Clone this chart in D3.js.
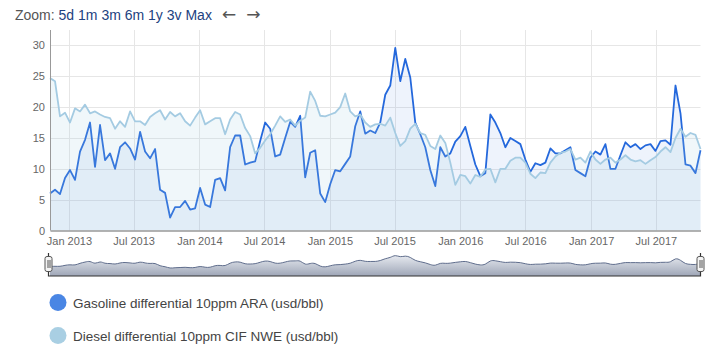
<!DOCTYPE html>
<html>
<head>
<meta charset="utf-8">
<script src="https://cdnjs.cloudflare.com/ajax/libs/d3/7.8.5/d3.min.js"></script>
<style>
  body { margin: 0; background: #fff; }
  svg { display: block; font-family: "Liberation Sans", Arial, Helvetica, sans-serif; }
</style>
</head>
<body>
<div id="chart"></div>
<script>
// one value every 14 days, starting 9 Nov 2012
var startDate = new Date(2012, 10, 9);
var stepDays = 14;

var gasoline = [
  6.0, 6.6, 5.9, 8.5, 9.8, 8.2, 12.8, 14.7, 17.5, 10.3,
  17.1, 11.4, 12.5, 10.0, 13.5, 14.3, 13.3, 11.5, 16.0, 12.8,
  11.7, 13.2, 6.6, 6.1, 2.1, 3.8, 3.8, 4.8, 3.4, 3.6,
  6.9, 4.2, 3.8, 8.2, 8.5, 6.5, 13.5, 15.4, 15.4, 10.7,
  11.0, 11.2, 14.5, 17.5, 16.5, 12.0, 12.3, 15.0, 17.6, 16.8,
  18.6, 8.6, 12.6, 13.0, 6.0, 4.6, 7.5, 9.8, 9.6, 10.8,
  12.0, 16.9, 19.3, 15.7, 16.2, 15.8, 17.5, 22.0, 23.5, 29.6,
  24.2, 27.8, 24.8, 17.5, 15.6, 13.5, 9.8, 7.2, 13.5, 12.0,
  12.5, 14.4, 15.3, 16.8, 13.7, 10.7, 8.8, 9.3, 18.8, 17.5,
  15.8, 13.5, 15.0, 14.5, 14.0, 11.5, 9.5, 10.9, 10.6, 11.0,
  13.3, 12.5, 12.5, 13.0, 13.5, 9.8, 9.3, 8.8, 11.8, 12.8,
  12.3, 14.0, 10.0, 10.0, 12.2, 14.3, 13.5, 14.0, 13.2, 13.8,
  14.0, 12.9, 14.5, 14.6, 13.9, 23.5, 19.0, 10.7, 10.5, 9.3,
  13.0
];

var diesel = [
  24.7, 24.2, 18.5, 19.1, 17.5, 19.8, 19.3, 20.4, 19.0, 19.3,
  18.8, 18.4, 18.2, 16.5, 17.7, 16.8, 19.3, 17.7, 17.7, 17.1,
  18.4, 19.0, 19.5, 18.0, 19.2, 18.5, 19.0, 17.7, 17.0, 18.3,
  19.5, 17.2, 17.7, 18.2, 18.2, 15.6, 18.0, 19.2, 18.8, 16.6,
  15.3, 12.5, 13.4, 14.6, 15.6, 17.0, 18.5, 17.6, 18.0, 17.0,
  17.8, 18.3, 22.5, 21.0, 18.6, 18.5, 18.8, 19.1, 20.0, 22.2,
  19.3, 18.5, 18.8, 17.5, 16.8, 17.2, 17.3, 17.0, 18.3, 15.8,
  13.7, 14.5, 16.5, 17.3, 15.8, 15.5, 13.7, 13.2, 15.4, 14.2,
  11.0, 7.4, 9.0, 8.8, 7.6, 9.0, 8.7, 9.9, 10.0, 7.8,
  10.0, 10.0, 11.3, 11.8, 11.8, 11.0, 9.2, 8.5, 9.4, 9.3,
  11.0, 12.0, 12.6, 12.8, 13.2, 11.5, 11.8, 11.0, 12.8, 11.5,
  10.8, 11.5, 11.8, 11.0, 11.5, 12.2, 11.5, 11.2, 11.4, 10.8,
  11.4, 11.9, 12.8, 13.5, 12.7, 15.0, 16.5, 15.2, 15.8, 15.5,
  13.2
];

var seriesNames = ["Gasoline differential 10ppm ARA (usd/bbl)", "Diesel differential 10ppm CIF NWE (usd/bbl)"];
var lineColors = ["#2468dc", "#a4cbe2"];
var legendColors = ["#4a86e4", "#a9cfe3"];
var fillOpacity = [0.08, 0.16];
var yTicks = [0, 5, 10, 15, 20, 25, 30];
var zoomButtons = ["5d", "1m", "3m", "6m", "1y", "3v", "Max"];
var arrows = ["\u2190", "\u2192"];

var width = 720, height = 364;
var plotLeft = 50, plotRight = 700.5, plotTop = 30, plotBottom = 230.5;

var dates = gasoline.map(function(d, i) { return d3.timeDay.offset(startDate, i * stepDays); });
var series = [gasoline, diesel].map(function(vals, k) {
  return { name: seriesNames[k], color: lineColors[k], values: vals.map(function(v, i) { return { date: dates[i], value: v }; }) };
});

var svg = d3.select("#chart").append("svg")
  .attr("width", width)
  .attr("height", height);

var x = d3.scaleTime().domain(d3.extent(dates)).range([plotLeft, plotRight]);
var y = d3.scaleLinear().domain([0, 32.5]).range([plotBottom, plotTop]);

// range selector text
var zoom = svg.append("text")
  .attr("x", 15)
  .attr("y", 20)
  .style("font-size", "14px");
zoom.append("tspan").attr("fill", "#555").text("Zoom:");
zoomButtons.forEach(function(b) {
  zoom.append("tspan").attr("fill", "#22427f").text(" " + b);
});
arrows.forEach(function(a) {
  zoom.append("tspan")
    .attr("dx", 10)
    .attr("fill", "#555")
    .style("font-family", "'DejaVu Sans', sans-serif")
    .style("font-size", "17px")
    .text(a);
});

// grid
var xTicks = x.ticks(d3.timeMonth.every(6));
svg.append("g")
  .selectAll("line")
  .data(xTicks)
  .enter().append("line")
  .attr("x1", function(d) { return Math.round(x(d)) + 0.5; })
  .attr("x2", function(d) { return Math.round(x(d)) + 0.5; })
  .attr("y1", plotTop)
  .attr("y2", plotBottom)
  .attr("stroke", "#e6e6e6");

svg.append("g")
  .selectAll("line")
  .data(yTicks.slice(1))
  .enter().append("line")
  .attr("x1", plotLeft)
  .attr("x2", plotRight)
  .attr("y1", function(d) { return Math.round(y(d)) + 0.5; })
  .attr("y2", function(d) { return Math.round(y(d)) + 0.5; })
  .attr("stroke", "#e6e6e6");

var area = d3.area()
  .x(function(d) { return x(d.date); })
  .y0(y(0))
  .y1(function(d) { return y(d.value); });

var line = d3.line()
  .x(function(d) { return x(d.date); })
  .y(function(d) { return y(d.value); });

series.forEach(function(s, k) {
  var g = svg.append("g");
  g.append("path")
    .datum(s.values)
    .attr("d", area)
    .attr("fill", s.color)
    .attr("fill-opacity", fillOpacity[k]);
  g.append("path")
    .datum(s.values)
    .attr("d", line)
    .attr("fill", "none")
    .attr("stroke", s.color)
    .attr("stroke-width", 1.8)
    .attr("stroke-linejoin", "round");
});

// axes
var yAxis = svg.append("g")
  .attr("transform", "translate(" + plotLeft + ",0)")
  .call(d3.axisLeft(y).tickValues(yTicks).tickSize(0).tickPadding(5));
yAxis.select(".domain").attr("stroke", "#999").attr("d", "M0.5," + plotTop + "V" + plotBottom);
yAxis.selectAll("text").attr("fill", "#666").style("font-size", "11px")
  .style("font-family", "'Liberation Sans', Arial, sans-serif");

var xAxis = svg.append("g")
  .attr("transform", "translate(0," + plotBottom + ")")
  .call(d3.axisBottom(x).tickValues(xTicks).tickFormat(d3.timeFormat("%b %Y")).tickSize(0).tickPadding(7));
xAxis.select(".domain").attr("stroke", "#999").attr("stroke-width", 1.5);
xAxis.selectAll("text").attr("fill", "#666").style("font-size", "11px")
  .style("font-family", "'Liberation Sans', Arial, sans-serif");

// navigator
var navTop = 253, navBottom = 276;
var navY = d3.scaleLinear().domain([-13, 33]).range([navBottom, navTop]);

var grad = svg.append("defs").append("linearGradient")
  .attr("id", "navFill")
  .attr("x1", 0).attr("y1", 0).attr("x2", 0).attr("y2", 1);
grad.append("stop").attr("offset", "0%").attr("stop-color", "#e6e9ef");
grad.append("stop").attr("offset", "100%").attr("stop-color", "#9ea6b7");

svg.append("path")
  .datum(series[0].values)
  .attr("d", d3.area().curve(d3.curveBasis)
    .x(function(d) { return x(d.date); })
    .y0(navBottom)
    .y1(function(d) { return navY(d.value); }))
  .attr("fill", "url(#navFill)");

svg.append("path")
  .datum(series[0].values)
  .attr("d", d3.line().curve(d3.curveBasis)
    .x(function(d) { return x(d.date); })
    .y(function(d) { return navY(d.value); }))
  .attr("fill", "none")
  .attr("stroke", "#5f6d8c")
  .attr("stroke-width", 1);

svg.append("path")
  .attr("d", "M" + (plotLeft - 1.5) + "," + navTop + "V" + navBottom + "H" + plotRight + "V" + navTop)
  .attr("fill", "none")
  .attr("stroke", "#333")
  .attr("stroke-width", 1.2);

[plotLeft - 1.5, plotRight].forEach(function(hx) {
  var h = svg.append("g").attr("transform", "translate(" + hx + ",0)");
  h.append("rect")
    .attr("x", -3.5).attr("y", 256.5)
    .attr("width", 7).attr("height", 15)
    .attr("rx", 2)
    .attr("fill", "#f4f4f4")
    .attr("stroke", "#555");
  [-1, 1].forEach(function(dx) {
    h.append("line")
      .attr("x1", dx + 0.5).attr("x2", dx + 0.5)
      .attr("y1", 260).attr("y2", 268)
      .attr("stroke", "#555");
  });
});

// legend
var legend = svg.append("g")
  .selectAll("g")
  .data(series)
  .enter().append("g")
  .attr("transform", function(d, i) { return "translate(58," + (302.5 + i * 33) + ")"; });
legend.append("circle")
  .attr("r", 8.5)
  .attr("fill", function(d, i) { return legendColors[i]; });
legend.append("text")
  .attr("x", 15)
  .attr("y", 5)
  .attr("fill", "#444")
  .style("font-size", "13.5px")
  .text(function(d) { return d.name; });
</script>
</body>
</html>
